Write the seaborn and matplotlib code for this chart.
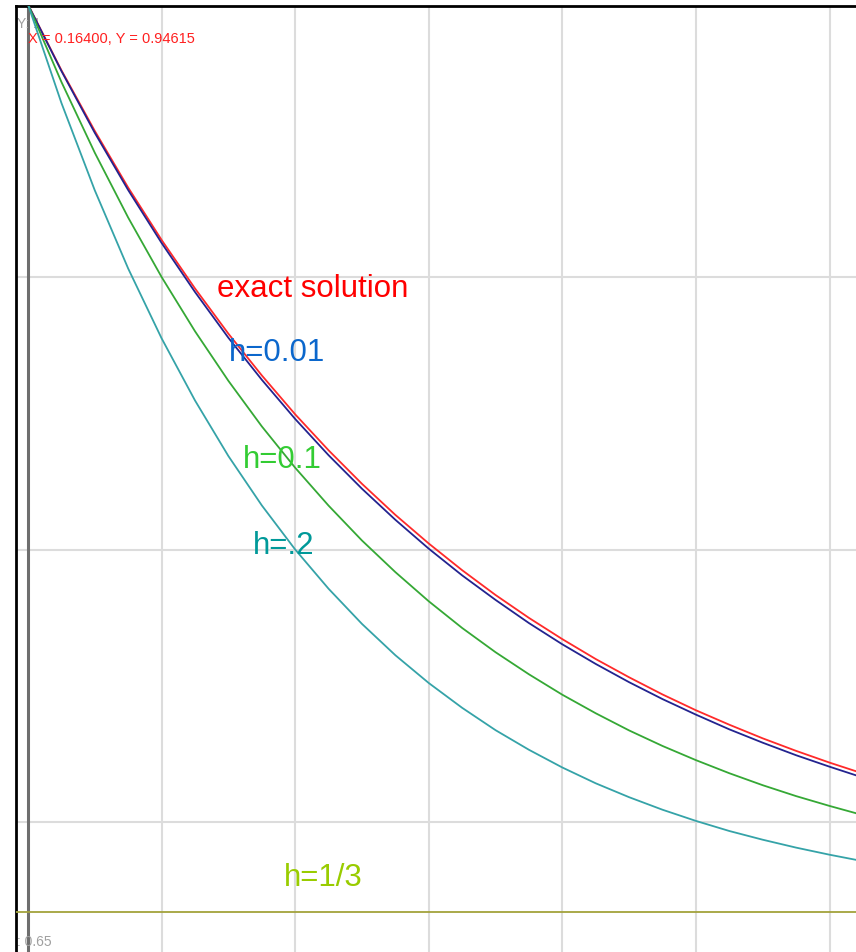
import numpy as np
import pandas as pd
import matplotlib
matplotlib.use("Agg")
import matplotlib.pyplot as plt
import seaborn as sns

# Euler approximations of y' = 2 - 3y, y(0) = 1, against the exact solution
x_vals = [0.0, 0.025, 0.05, 0.075, 0.1, 0.125, 0.15, 0.175, 0.2, 0.225,
          0.25, 0.275, 0.3, 0.325, 0.35, 0.375, 0.4, 0.425, 0.45, 0.475,
          0.5, 0.525, 0.55, 0.575, 0.6, 0.62]
y_exact = [1.0000, 0.9759, 0.9536, 0.9328, 0.9136, 0.8958, 0.8792, 0.8639,
           0.8496, 0.8364, 0.8241, 0.8127, 0.8022, 0.7924, 0.7833, 0.7749,
           0.7671, 0.7598, 0.7531, 0.7468, 0.7410, 0.7357, 0.7307, 0.7261,
           0.7218, 0.7186]
y_h001 = [1.0000, 0.9756, 0.9529, 0.9319, 0.9125, 0.8945, 0.8777, 0.8623,
          0.8479, 0.8346, 0.8223, 0.8109, 0.8003, 0.7905, 0.7815, 0.7730,
          0.7652, 0.7580, 0.7513, 0.7451, 0.7394, 0.7340, 0.7291, 0.7245,
          0.7203, 0.7171]
y_h01 = [1.0000, 0.9716, 0.9456, 0.9218, 0.9000, 0.8801, 0.8619, 0.8452,
         0.8300, 0.8161, 0.8033, 0.7917, 0.7810, 0.7712, 0.7623, 0.7542,
         0.7467, 0.7399, 0.7336, 0.7279, 0.7227, 0.7179, 0.7135, 0.7095,
         0.7059, 0.7032]
y_h02 = [1.0000, 0.9639, 0.9318, 0.9031, 0.8775, 0.8547, 0.8343, 0.8162,
         0.8000, 0.7856, 0.7727, 0.7612, 0.7510, 0.7419, 0.7337, 0.7265,
         0.7200, 0.7142, 0.7091, 0.7045, 0.7004, 0.6967, 0.6935, 0.6906,
         0.6880, 0.6861]
x_h3 = [-0.02, 0.63]
y_h3 = [0.667, 0.667]

series_names = ["exact solution", "h=0.01", "h=0.1", "h=.2", "h=1/3"]
line_colors = ["#ff2a2a", "#23238f", "#35a835", "#35a3a8", "#a3a23c"]
label_colors = ["#ff0000", "#0b67cc", "#33cc33", "#009999", "#99cc00"]
label_pos = [(0.1418, 0.8925), (0.150, 0.869), (0.1612, 0.830), (0.1687, 0.7985), (0.1912, 0.6766)]

frames = []
for name, xs, ys in [("exact solution", x_vals, y_exact),
                     ("h=0.01", x_vals, y_h001),
                     ("h=0.1", x_vals, y_h01),
                     ("h=.2", x_vals, y_h02),
                     ("h=1/3", x_h3, y_h3)]:
    frames.append(pd.DataFrame({"x": xs, "y": ys, "curve": name}))
df = pd.concat(frames, ignore_index=True)

sns.set_style("white")
plt.rcParams["font.family"] = ["Liberation Sans", "DejaVu Sans"]

W, H = 856, 952
fig = plt.figure(figsize=(W / 100, H / 100), dpi=100)
ax = fig.add_axes([16 / W, 0, (W - 16) / W, (H - 6) / H])

ax.set_xlim(-0.00898, 0.6198)
ax.set_ylim(0.6523, 0.99945)

# grid
for gx in np.arange(0.1, 0.65, 0.1):
    ax.axvline(gx, color="#dcdcdc", lw=1.5, zorder=0)
for gy in [0.7, 0.8, 0.9]:
    ax.axhline(gy, color="#dcdcdc", lw=1.5, zorder=0)
ax.axvline(0.0, color="#6e6e6e", lw=2.2, zorder=1)

sns.lineplot(data=df, x="x", y="y", hue="curve", hue_order=series_names,
             palette=line_colors, linewidth=1.3, legend=False, ax=ax,
             sort=False, estimator=None, zorder=3)

for name, col, (tx, ty) in zip(series_names, label_colors, label_pos):
    ax.text(tx, ty, name, color=col, fontsize=22.5, ha="left", va="baseline", zorder=5)

ax.text(0.0, 0.9858, "X = 0.16400, Y = 0.94615", color="#ff2020", fontsize=10.5,
        ha="left", va="baseline", zorder=6)
ax.text(-0.0085, 0.9915, "Y: 1", color="#a0a0a0", fontsize=10, ha="left",
        va="baseline", zorder=2)
ax.text(-0.0085, 0.6545, ": 0.65", color="#a0a0a0", fontsize=10, ha="left",
        va="baseline", zorder=2)

ax.set_xlabel("")
ax.set_ylabel("")
ax.set_xticks([])
ax.set_yticks([])
for side in ["right", "bottom"]:
    ax.spines[side].set_visible(False)
for side in ["left", "top"]:
    ax.spines[side].set_visible(True)
    ax.spines[side].set_color("black")
    ax.spines[side].set_linewidth(2)

fig.savefig("out.png", dpi=100, facecolor="white")
